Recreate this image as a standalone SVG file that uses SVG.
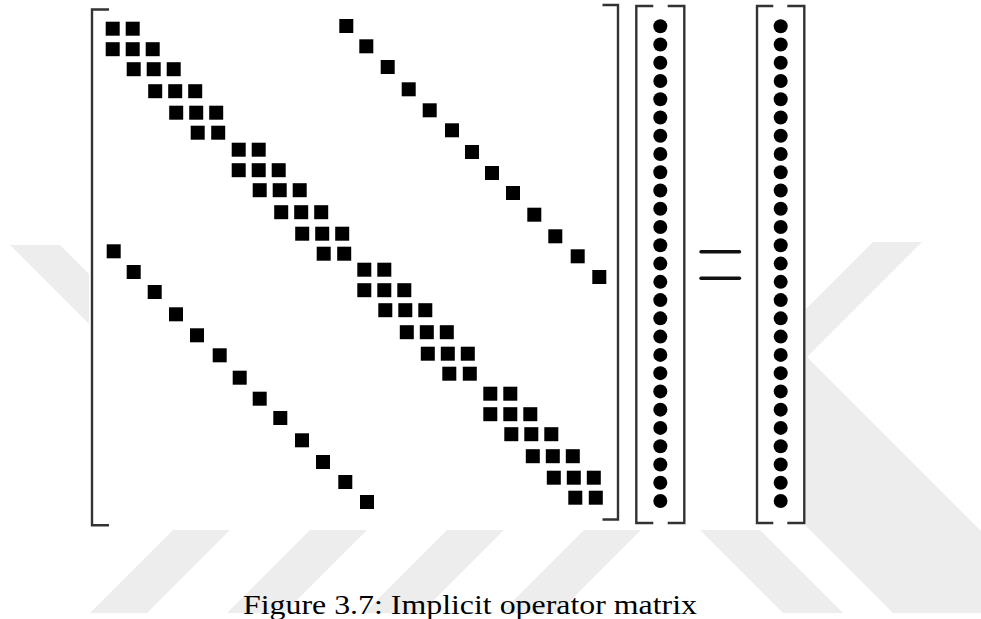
<svg xmlns="http://www.w3.org/2000/svg" width="981" height="619" viewBox="0 0 981 619">
  <style>
    .wm { fill: #ededed; }
    .br { fill: none; stroke: #333; stroke-width: 2.4; stroke-linejoin: miter; }
    .sq { fill: #000; }
    .dt { fill: #000; }
    .eq { stroke: #111; stroke-width: 3.4; stroke-linecap: round; }
    .cap { font-family: "Liberation Serif", "Times New Roman", serif; font-size: 28px; fill: #000; }
  </style>
  <defs>
    <!-- one 6x6 tridiagonal block of the main diagonal -->
    <g id="blk" class="sq">
      <rect x="0" y="0" width="14" height="14"/>
      <rect x="20" y="0" width="14" height="14"/>
      <rect x="0" y="20.5" width="14" height="14"/>
      <rect x="20" y="20.5" width="14" height="14"/>
      <rect x="40" y="20.5" width="14" height="14"/>
      <rect x="21" y="40.5" width="14" height="14"/>
      <rect x="41" y="40.5" width="14" height="14"/>
      <rect x="61" y="40.5" width="14" height="14"/>
      <rect x="42.5" y="62.5" width="14" height="14"/>
      <rect x="62.5" y="62.5" width="14" height="14"/>
      <rect x="82.5" y="62.5" width="14" height="14"/>
      <rect x="63.5" y="84" width="14" height="14"/>
      <rect x="83.5" y="84" width="14" height="14"/>
      <rect x="103.5" y="84" width="14" height="14"/>
      <rect x="85" y="104" width="14" height="14"/>
      <rect x="105.5" y="104" width="14" height="14"/>
    </g>
    <rect id="s" width="14" height="14"/>
    <circle id="d" r="7"/>
  </defs>

  <rect width="981" height="619" fill="#fff"/>

  <!-- faint background mark -->
  <g id="watermark" class="wm">
    <polygon points="10,245 60,245 300,485 250,485"/>
    <polygon points="873,242 922,242 680,484 631,484"/>
    <polygon points="637,357 807,357 1063,613 893,613"/>
    <polygon points="695,525 755,525 843,613 783,613"/>
    <polygon points="178,525 235,525 147,613 90,613"/>
    <polygon points="315,525 372,525 284,613 227,613"/>
    <polygon points="452,525 509,525 421,613 364,613"/>
    <polygon points="589,525 646,525 558,613 501,613"/>
  </g>

  <!-- opaque figure panel -->
  <rect x="89" y="0" width="717" height="530" fill="#fff"/>

  <!-- coefficient matrix -->
  <g id="matrix">
    <path class="br" d="M109,9.5 H92 V525.3 H109"/>
    <path class="br" d="M602.5,5 H618 V519.5 H602.5"/>
    <use href="#blk" x="105.7" y="21.7"/>
    <use href="#blk" x="231.7" y="142.7"/>
    <use href="#blk" x="357.3" y="262.7"/>
    <use href="#blk" x="483.3" y="386.7"/>
    <g id="upper-band" class="sq">
      <use href="#s" x="339.3" y="19"/>
      <use href="#s" x="359.3" y="39.3"/>
      <use href="#s" x="380.7" y="60"/>
      <use href="#s" x="401.7" y="82.3"/>
      <use href="#s" x="422.7" y="103.3"/>
      <use href="#s" x="445" y="123.3"/>
      <use href="#s" x="465" y="145"/>
      <use href="#s" x="485" y="166"/>
      <use href="#s" x="506" y="186"/>
      <use href="#s" x="527.3" y="207.7"/>
      <use href="#s" x="548.3" y="229.3"/>
      <use href="#s" x="570.7" y="249.3"/>
      <use href="#s" x="592.3" y="270"/>
    </g>
    <g id="lower-band" class="sq">
      <use href="#s" x="106.7" y="244.3"/>
      <use href="#s" x="126.7" y="265"/>
      <use href="#s" x="147.7" y="285"/>
      <use href="#s" x="169" y="307.3"/>
      <use href="#s" x="190" y="328.3"/>
      <use href="#s" x="212.7" y="348.3"/>
      <use href="#s" x="232.7" y="370.7"/>
      <use href="#s" x="252.7" y="391.7"/>
      <use href="#s" x="273.3" y="411"/>
      <use href="#s" x="295" y="433.3"/>
      <use href="#s" x="316" y="455"/>
      <use href="#s" x="338.3" y="475"/>
      <use href="#s" x="360" y="495"/>
    </g>
  </g>

  <!-- unknown vector -->
  <g id="vector-x">
    <path class="br" d="M653.3,6 H636.3 V523 H653.3"/>
    <path class="br" d="M667.7,6 H684.3 V523 H667.7"/>
    <g class="dt" transform="translate(660.3,0)">
      <use href="#d" y="26.2"/><use href="#d" y="44.46"/><use href="#d" y="62.72"/>
      <use href="#d" y="80.98"/><use href="#d" y="99.24"/><use href="#d" y="117.5"/>
      <use href="#d" y="135.76"/><use href="#d" y="154.02"/><use href="#d" y="172.28"/>
      <use href="#d" y="190.54"/><use href="#d" y="208.8"/><use href="#d" y="227.06"/>
      <use href="#d" y="245.32"/><use href="#d" y="263.58"/><use href="#d" y="281.84"/>
      <use href="#d" y="300.1"/><use href="#d" y="318.36"/><use href="#d" y="336.62"/>
      <use href="#d" y="354.88"/><use href="#d" y="373.14"/><use href="#d" y="391.4"/>
      <use href="#d" y="409.66"/><use href="#d" y="427.92"/><use href="#d" y="446.18"/>
      <use href="#d" y="464.44"/><use href="#d" y="482.7"/><use href="#d" y="500.96"/>
    </g>
  </g>

  <!-- equals sign -->
  <g id="equals">
    <line class="eq" x1="701" y1="251.7" x2="739.5" y2="251.7"/>
    <line class="eq" x1="701" y1="278.3" x2="739.5" y2="278.3"/>
  </g>

  <!-- right-hand side vector -->
  <g id="vector-b">
    <path class="br" d="M773.3,6 H757 V523 H773.3"/>
    <path class="br" d="M787.3,6 H804.3 V523 H787.3"/>
    <g class="dt" transform="translate(780.7,0)">
      <use href="#d" y="26.2"/><use href="#d" y="44.46"/><use href="#d" y="62.72"/>
      <use href="#d" y="80.98"/><use href="#d" y="99.24"/><use href="#d" y="117.5"/>
      <use href="#d" y="135.76"/><use href="#d" y="154.02"/><use href="#d" y="172.28"/>
      <use href="#d" y="190.54"/><use href="#d" y="208.8"/><use href="#d" y="227.06"/>
      <use href="#d" y="245.32"/><use href="#d" y="263.58"/><use href="#d" y="281.84"/>
      <use href="#d" y="300.1"/><use href="#d" y="318.36"/><use href="#d" y="336.62"/>
      <use href="#d" y="354.88"/><use href="#d" y="373.14"/><use href="#d" y="391.4"/>
      <use href="#d" y="409.66"/><use href="#d" y="427.92"/><use href="#d" y="446.18"/>
      <use href="#d" y="464.44"/><use href="#d" y="482.7"/><use href="#d" y="500.96"/>
    </g>
  </g>

  <g id="caption">
    <text class="cap" x="243" y="614" textLength="454" lengthAdjust="spacingAndGlyphs">Figure 3.7: Implicit operator matrix</text>
  </g>
</svg>
